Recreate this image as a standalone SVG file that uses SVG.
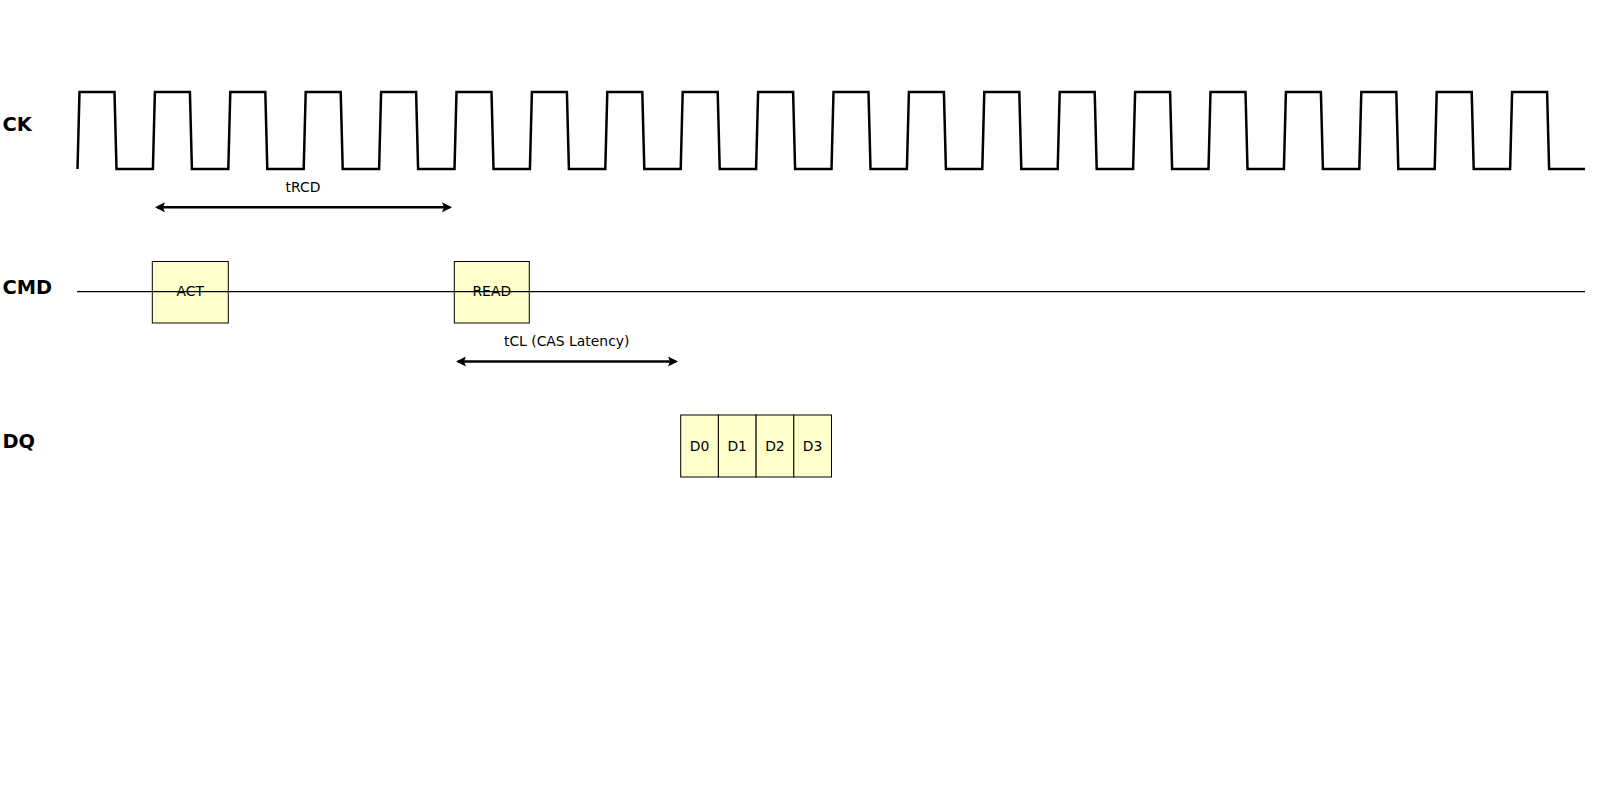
<svg xmlns="http://www.w3.org/2000/svg" width="1600" height="800" viewBox="0 0 1600 800">
<style>
  .sig { font-family: "DejaVu Sans", "Liberation Sans", sans-serif; font-weight: bold; font-size: 19.4px; fill: #000; }
  .lbl { font-family: "DejaVu Sans", "Liberation Sans", sans-serif; font-size: 13.9px; fill: #000; }
  .box { fill: #ffffcc; stroke: #000; stroke-width: 1; }
  .wave { fill: none; stroke: #000; stroke-width: 2.5; stroke-linejoin: miter; }
  .tline { fill: none; stroke: #000; stroke-width: 1.2; }
  .arr { fill: none; stroke: #000; stroke-width: 2.5; marker-start: url(#ah); marker-end: url(#ah); }
</style>
<defs>
  <marker id="ah" viewBox="0 0 10 10" refX="8" refY="5" markerWidth="4" markerHeight="4" orient="auto-start-reverse" markerUnits="strokeWidth">
    <path d="M0,0 L10,5 L0,10 L2,5 Z" fill="#000"/>
  </marker>
</defs>
<rect width="1600" height="800" fill="#fff"/>
<g id="labels">
  <text class="sig" x="2.5" y="131">CK</text>
  <text class="sig" x="2.5" y="294">CMD</text>
  <text class="sig" x="2.5" y="448">DQ</text>
</g>
<g id="clock">
  <path class="wave" d="M77.5,169 L79.5,92 L114.5,92 L116.5,169 L152.9,169 L154.9,92 L189.9,92 L191.9,169 L228.3,169 L230.3,92 L265.3,92 L267.3,169 L303.7,169 L305.7,92 L340.7,92 L342.7,169 L379.1,169 L381.1,92 L416.1,92 L418.1,169 L454.5,169 L456.5,92 L491.5,92 L493.5,169 L529.9,169 L531.9,92 L566.9,92 L568.9,169 L605.3,169 L607.3,92 L642.3,92 L644.3,169 L680.7,169 L682.7,92 L717.7,92 L719.7,169 L756.1,169 L758.1,92 L793.1,92 L795.1,169 L831.5,169 L833.5,92 L868.5,92 L870.5,169 L906.9,169 L908.9,92 L943.9,92 L945.9,169 L982.3,169 L984.3,92 L1019.3,92 L1021.3,169 L1057.7,169 L1059.7,92 L1094.7,92 L1096.7,169 L1133.1,169 L1135.1,92 L1170.1,92 L1172.1,169 L1208.5,169 L1210.5,92 L1245.5,92 L1247.5,169 L1283.9,169 L1285.9,92 L1320.9,92 L1322.9,169 L1359.3,169 L1361.3,92 L1396.3,92 L1398.3,169 L1434.7,169 L1436.7,92 L1471.7,92 L1473.7,169 L1510.1,169 L1512.1,92 L1547.1,92 L1549.1,169 L1585,169"/>
</g>
<g id="node-act">
  <rect class="box" x="152.3" y="261.5" width="76" height="61.5"/>
  <text class="lbl" x="190.3" y="291" text-anchor="middle" dominant-baseline="central">ACT</text>
</g>
<g id="node-read">
  <rect class="box" x="454.3" y="261.5" width="75" height="61.5"/>
  <text class="lbl" x="491.8" y="291" text-anchor="middle" dominant-baseline="central">READ</text>
</g>
<g id="cmd-line">
  <line class="tline" x1="77" y1="291.6" x2="1585" y2="291.6"/>
</g>
<g id="node-d0">
  <rect class="box" x="680.7" y="415" width="37.7" height="62"/>
  <text class="lbl" x="699.5" y="446" text-anchor="middle" dominant-baseline="central">D0</text>
</g>
<g id="node-d1">
  <rect class="box" x="718.4" y="415" width="37.7" height="62"/>
  <text class="lbl" x="737.2" y="446" text-anchor="middle" dominant-baseline="central">D1</text>
</g>
<g id="node-d2">
  <rect class="box" x="756.1" y="415" width="37.7" height="62"/>
  <text class="lbl" x="774.9" y="446" text-anchor="middle" dominant-baseline="central">D2</text>
</g>
<g id="node-d3">
  <rect class="box" x="793.8" y="415" width="37.7" height="62"/>
  <text class="lbl" x="812.6" y="446" text-anchor="middle" dominant-baseline="central">D3</text>
</g>
<g id="connectors">
  <line class="arr" x1="157" y1="207.3" x2="450" y2="207.3"/>
  <text class="lbl" x="303" y="192" text-anchor="middle">tRCD</text>
  <line class="arr" x1="458" y1="361.5" x2="676" y2="361.5"/>
  <text class="lbl" x="566.7" y="346" text-anchor="middle">tCL (CAS Latency)</text>
</g>
</svg>
